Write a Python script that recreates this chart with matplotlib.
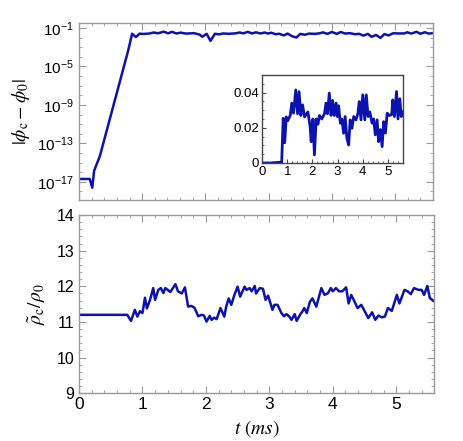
import numpy as np
import matplotlib
matplotlib.use('Agg')
import matplotlib.pyplot as plt
from matplotlib.ticker import FixedLocator, MultipleLocator, NullFormatter

plt.rcParams['font.family'] = ['Liberation Sans', 'DejaVu Sans']
plt.rcParams['mathtext.fontset'] = 'stix'

# |phi_c - phi_0| vs t (ms)
phi_t = [0.00, 0.17, 0.21, 0.24, 0.33, 0.78, 0.84, 0.90, 0.96, 1.02, 1.12, 1.18, 1.25,
         1.34, 1.41, 1.47, 1.54, 1.61, 1.69, 1.75, 1.82, 1.91, 1.95, 2.02, 2.08, 2.15,
         2.22, 2.28, 2.37, 2.48, 2.54, 2.60, 2.67, 2.74, 2.80, 2.87, 2.94, 2.99, 3.04,
         3.11, 3.17, 3.24, 3.30, 3.37, 3.44, 3.50, 3.57, 3.64, 3.73, 3.81, 3.86, 3.93,
         4.00, 4.08, 4.14, 4.21, 4.28, 4.37, 4.43, 4.50, 4.57, 4.63, 4.70, 4.77, 4.83,
         4.90, 4.97, 5.06, 5.15, 5.19, 5.26, 5.34, 5.40, 5.47, 5.53, 5.60]
phi_v = [2.0e-17, 2.0e-17, 2.5e-18, 1.5e-16, 4.7e-15, 5.0e-4, 0.0254, 0.0115, 0.0262,
         0.0240, 0.0270, 0.0340, 0.0283, 0.0415, 0.0280, 0.0405, 0.0270, 0.0330, 0.0262,
         0.0275, 0.0290, 0.0207, 0.0121, 0.0250, 0.0046, 0.0250, 0.0220, 0.0270, 0.0250,
         0.0280, 0.0340, 0.0280, 0.0397, 0.0270, 0.0355, 0.0270, 0.0340, 0.0264, 0.0325,
         0.0226, 0.0250, 0.0169, 0.0264, 0.0141, 0.0102, 0.0245, 0.0197, 0.0264, 0.0245,
         0.0283, 0.0349, 0.0245, 0.0387, 0.0245, 0.0387, 0.0264, 0.0290, 0.0226, 0.0250,
         0.0160, 0.0245, 0.0121, 0.0190, 0.0093, 0.0235, 0.0170, 0.0283, 0.0270, 0.0275,
         0.0358, 0.0264, 0.0406, 0.0250, 0.0365, 0.0264, 0.0290]

# rho_c / rho_0 vs t (ms)
rho_t = [0.00, 0.76, 0.82, 0.88, 0.92, 0.96, 1.00, 1.04, 1.07, 1.12, 1.17, 1.20, 1.25,
         1.29, 1.33, 1.36, 1.40, 1.44, 1.48, 1.52, 1.56, 1.62, 1.67, 1.72, 1.77, 1.82,
         1.88, 1.93, 1.97, 2.01, 2.06, 2.09, 2.13, 2.17, 2.23, 2.29, 2.32, 2.36, 2.40,
         2.45, 2.50, 2.54, 2.61, 2.64, 2.69, 2.72, 2.77, 2.79, 2.85, 2.90, 2.94, 2.98,
         3.05, 3.08, 3.13, 3.19, 3.23, 3.27, 3.31, 3.35, 3.40, 3.43, 3.49, 3.52, 3.55,
         3.59, 3.64, 3.68, 3.74, 3.82, 3.87, 3.92, 3.97, 4.00, 4.05, 4.10, 4.15, 4.21,
         4.25, 4.29, 4.33, 4.39, 4.45, 4.50, 4.56, 4.62, 4.67, 4.72, 4.77, 4.82, 4.87,
         4.93, 5.01, 5.05, 5.13, 5.18, 5.23, 5.28, 5.35, 5.40, 5.44, 5.49, 5.53, 5.59]
rho_v = [11.20, 11.20, 11.03, 11.34, 11.15, 11.30, 11.25, 11.68, 11.38, 11.62, 11.95,
         11.62, 11.90, 11.95, 11.81, 11.95, 11.90, 11.84, 11.95, 12.06, 11.86, 11.80,
         11.97, 11.43, 11.45, 11.40, 11.16, 11.20, 11.18, 11.01, 11.17, 11.06, 11.12,
         11.08, 11.39, 11.15, 11.43, 11.66, 11.48, 11.76, 11.99, 11.71, 11.99, 11.90,
         11.95, 11.86, 12.01, 11.80, 11.95, 11.93, 11.62, 11.74, 11.34, 11.48, 11.48,
         11.25, 11.16, 11.22, 11.16, 11.06, 11.22, 11.03, 11.22, 11.29, 11.39, 11.25,
         11.57, 11.66, 11.43, 11.95, 11.76, 11.80, 11.95, 11.86, 11.95, 11.86, 11.86,
         11.97, 11.52, 11.76, 11.62, 11.39, 11.48, 11.31, 11.11, 11.27, 11.06, 11.18,
         11.13, 11.15, 11.39, 11.31, 11.76, 11.52, 11.90, 11.86, 11.78, 11.95, 11.90,
         11.90, 11.76, 12.01, 11.67, 11.59]

blue = '#0c12b0'
frame = '#9a9a9a'


def style(ax, color=frame):
    for s in ax.spines.values():
        s.set_color(color)
        s.set_linewidth(1.0)
    ax.tick_params(which='both', direction='in', top=True, right=True, color=color)
    ax.tick_params(which='major', length=5)
    ax.tick_params(which='minor', length=2.5)


fig = plt.figure(figsize=(4.63, 4.41), dpi=100)

# top panel
ax1 = fig.add_axes([0.1706, 0.5465, 0.7645, 0.4013])
ax1.semilogy(phi_t, phi_v, color=blue, lw=1.8)
ax1.set_xlim(0, 5.6)
ax1.set_ylim(1.3e-19, 0.33)
ax1.yaxis.set_major_locator(FixedLocator([1e-17, 1e-13, 1e-9, 1e-5, 1e-1]))
ax1.yaxis.set_minor_locator(FixedLocator([10.0 ** k for k in range(-19, 0)]))
ax1.yaxis.set_minor_formatter(NullFormatter())
ax1.xaxis.set_major_locator(MultipleLocator(1))
ax1.xaxis.set_minor_locator(MultipleLocator(0.2))
ax1.set_xticklabels([])
style(ax1)
ax1.tick_params(axis='y', labelsize=11)
ax1.set_ylabel(r'$|\phi_{\rm c}-\phi_0|$', fontsize=14, labelpad=4)

# inset
axin = fig.add_axes([0.566, 0.6304, 0.3045, 0.1996])
axin.plot(phi_t, phi_v, color=blue, lw=2.0)
axin.set_xlim(0, 5.6)
axin.set_ylim(0, 0.05)
axin.xaxis.set_major_locator(MultipleLocator(1))
axin.xaxis.set_minor_locator(MultipleLocator(0.2))
axin.set_yticks([0, 0.02, 0.04])
axin.set_yticklabels(['0', '0.02', '0.04'])
axin.yaxis.set_minor_locator(MultipleLocator(0.005))
style(axin, '#444444')
axin.tick_params(which='both', top=False, right=False)
axin.tick_params(which='major', length=3)
axin.tick_params(which='minor', length=1.5)
axin.tick_params(labelsize=9.5, pad=2)

# bottom panel
ax2 = fig.add_axes([0.1706, 0.1082, 0.7674, 0.4043])
ax2.plot(rho_t, rho_v, color=blue, lw=1.8)
ax2.set_xlim(0, 5.6)
ax2.set_ylim(9, 14)
ax2.xaxis.set_major_locator(MultipleLocator(1))
ax2.xaxis.set_minor_locator(MultipleLocator(0.2))
ax2.yaxis.set_major_locator(MultipleLocator(1))
ax2.yaxis.set_minor_locator(MultipleLocator(0.2))
style(ax2)
ax2.tick_params(axis='x', labelsize=12.5, pad=3)
ax2.tick_params(axis='y', labelsize=11.5)
ax2.set_ylabel(r'$\tilde{\rho}_{\rm c}/\rho_0$', fontsize=14, labelpad=6)
ax2.set_xlabel(r'$t\ (ms)$', fontsize=14, labelpad=4)

fig.savefig('out.png', dpi=100)
